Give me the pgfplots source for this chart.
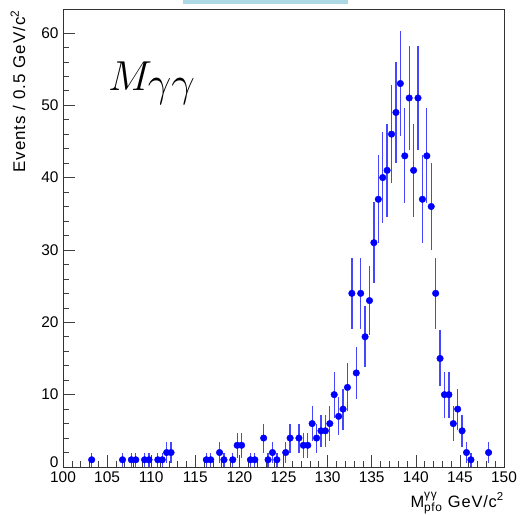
\documentclass[border=0pt]{standalone}
\usepackage{pgfplots}
\pgfplotsset{compat=1.18}
\usepackage{pgfplotstable}
\usepackage{graphicx}
\usepackage{fontspec}
\setmainfont{Liberation Sans}

% diphoton invariant mass, 0.5 GeV bins: centre, events, sqrt(N) error
\pgfplotstableread{
x y e
103.25 1 1
106.75 1 1
107.75 1 1
108.25 1 1
109.25 1 1
109.75 1 1
110.75 1 1
111.25 1 1
111.75 2 1.414
112.25 2 1.414
116.25 1 1
116.75 1 1
117.75 2 1.414
118.25 1 1
119.25 1 1
119.75 3 1.732
120.25 3 1.732
121.25 1 1
121.75 1 1
122.75 4 2
123.25 1 1
123.75 2 1.414
124.25 1 1
125.25 2 1.414
125.75 4 2
126.75 4 2
127.25 3 1.732
127.75 3 1.732
128.25 6 2.449
128.75 4 2
129.25 5 2.236
129.75 5 2.236
130.25 6 2.449
130.75 10 3.162
131.25 7 2.646
131.75 8 2.828
132.25 11 3.317
132.75 24 4.899
133.25 13 3.606
133.75 24 4.899
134.25 18 4.243
134.75 23 4.796
135.25 31 5.568
135.75 37 6.083
136.25 40 6.325
136.75 41 6.403
137.25 46 6.782
137.75 49 7
138.25 53 7.280
138.75 43 6.557
139.25 51 7.141
139.75 41 6.403
140.25 51 7.141
140.75 37 6.083
141.25 43 6.557
141.75 36 6
142.25 24 4.899
142.75 15 3.873
143.25 10 3.162
143.75 10 3.162
144.25 6 2.449
144.75 8 2.828
145.25 5 2.236
145.75 2 1.414
146.25 1 1
148.25 2 1.414
}\massdata

\definecolor{titlebox}{RGB}{173,216,230}
\definecolor{pts}{RGB}{0,0,255}
\definecolor{errs}{RGB}{70,70,255}

\begin{document}
\begin{tikzpicture}
\useasboundingbox (-63bp,-48bp) rectangle (460bp,467bp);
\begin{axis}[
  scale only axis,
  width=441bp, height=458bp,
  xmin=100, xmax=150, ymin=0, ymax=63.3,
  xtick={100,105,...,150}, minor x tick num=4,
  ytick={0,10,...,60}, minor y tick num=4,
  yticklabels={{\raisebox{9bp}{0}},10,20,30,40,50,60},
  tick align=inside, xtick pos=bottom, ytick pos=left,
  major tick length=12bp, minor tick length=6bp,
  tick style={black!75, line width=0.6bp},
  axis line style={black!80, line width=0.8bp},
  ticklabel style={font=\fontsize{15.5}{18}\selectfont},
  /pgf/number format/assume math mode=true,
  xticklabel style={yshift=-1bp},
  yticklabel style={xshift=-1bp},
  every error bar/.append style={draw=errs, color=errs, line width=1.3bp},
]
\addplot[only marks, mark=*, mark size=3.3bp, color=pts,
  mark options={fill=pts, draw=pts},
  error bars/.cd, y dir=both, y explicit, error mark=none,
  error bar style={draw=errs, line width=1.3bp}]
  table[x=x, y=y, y error=e] {\massdata};

\node[anchor=base west, inner sep=0pt]
  at (axis cs:105.1,52.1)
  {\scalebox{1.69}{\fontsize{24.88}{28}\selectfont$M_{\textstyle\gamma\gamma}$}};
\end{axis}

% axis titles
\node[rotate=90, anchor=base east, inner sep=0pt,
  font=\fontsize{17}{20}\selectfont\addfontfeature{LetterSpace=6}]
  at (-38bp,457bp) {Events / 0.5 GeV/c\textsuperscript{2}};
\node[anchor=base east, inner sep=0pt,
  font=\fontsize{16.5}{20}\selectfont\addfontfeature{LetterSpace=5}]
  at (441bp,-40bp) {M$^{\mbox{\fontsize{12}{13}\selectfont γγ}}_{\mbox{\fontsize{12}{13}\selectfont pfo}}$ GeV/c\textsuperscript{2}};

% title box above the frame
\fill[titlebox] (120bp,463bp) rectangle (285bp,467bp);
\end{tikzpicture}
\end{document}
